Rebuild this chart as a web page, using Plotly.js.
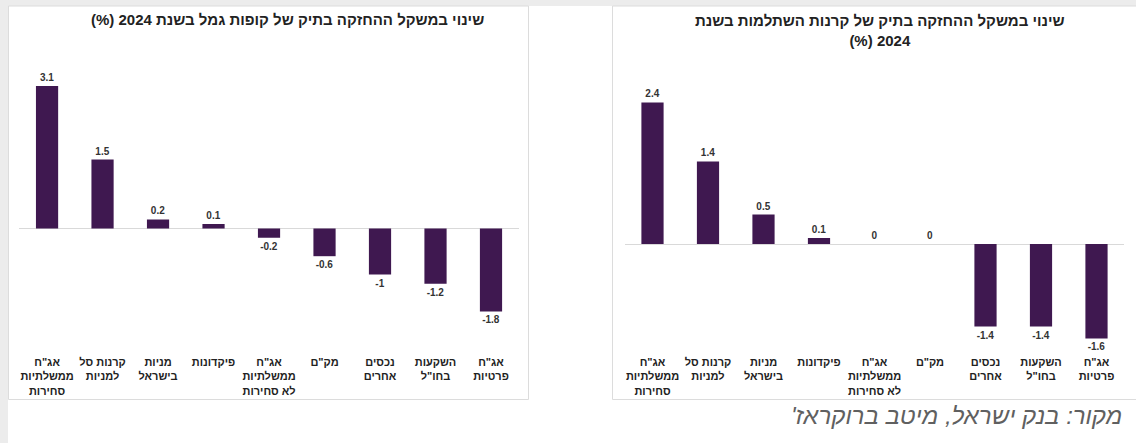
<!DOCTYPE html>
<html>
<head>
<meta charset="utf-8">
<script src="https://cdn.plot.ly/plotly-3.0.1.min.js"></script>
<style>
html,body{margin:0;padding:0;background:#fff;}
#chart{width:1136px;height:443px;}
</style>
</head>
<body>
<div id="chart"></div>
<script>
const RLM = '\u200F';
const categories = [
  'אג"ח<br>ממשלתיות<br>סחירות',
  'קרנות סל<br>למניות',
  'מניות<br>בישראל',
  'פיקדונות',
  'אג"ח<br>ממשלתיות<br>לא סחירות',
  'מק"ם',
  'נכסים<br>אחרים',
  'השקעות<br>בחו"ל',
  'אג"ח<br>פרטיות'
];
const gemelValues = [3.1, 1.5, 0.2, 0.1, -0.2, -0.6, -1, -1.2, -1.8];
const hishtalmutValues = [2.4, 1.4, 0.5, 0.1, 0, 0, -1.4, -1.4, -1.6];
const titleGemel = 'שינוי במשקל ההחזקה בתיק של קופות גמל בשנת 2024 (%)';
const titleHishtalmutLine1 = 'שינוי במשקל ההחזקה בתיק של קרנות השתלמות בשנת';
const titleHishtalmutLine2 = '2024 (%)';
const sourceText = "מקור: בנק ישראל, מיטב ברוקראז'";

const W = 1136, H = 443;
const px = x => x / W;
const py = y => 1 - y / H;

const barColor = '#3f1850';
const font = 'Liberation Sans, Arial, DejaVu Sans, sans-serif';
const tickLabels = categories.map(c => c.split('<br>').map(s => RLM + s + RLM).join('<br>'));
const xIdx = categories.map((c, i) => i);

function barTrace(vals, xa, ya) {
  return {
    type: 'bar', x: xIdx, y: vals, xaxis: xa, yaxis: ya,
    marker: {color: barColor},
    text: vals.map(v => String(v)),
    textposition: 'outside',
    cliponaxis: false,
    textfont: {family: font, size: 10, color: '#333', weight: 'bold'},
    hoverinfo: 'skip'
  };
}

const data = [
  barTrace(gemelValues, 'x', 'y'),
  barTrace(hishtalmutValues, 'x2', 'y2')
];

function xAxis(domain, anchor) {
  return {
    domain: domain, anchor: anchor, range: [-0.5, 8.5],
    tickmode: 'array', tickvals: xIdx, ticktext: tickLabels,
    showgrid: false, zeroline: false, showline: false, ticks: '',
    ticklabelstandoff: 4,
    tickfont: {family: font, size: 11, color: '#222', weight: 'bold'},
    fixedrange: true
  };
}
function yAxis(domain, anchor, range) {
  return {
    domain: domain, anchor: anchor, range: range,
    showgrid: false, showticklabels: false, ticks: '',
    zeroline: true, zerolinecolor: '#d9d9d9', zerolinewidth: 1,
    showline: false, fixedrange: true
  };
}

const layout = {
  width: W, height: H,
  margin: {l: 0, r: 0, t: 0, b: 0},
  paper_bgcolor: '#ffffff',
  plot_bgcolor: 'rgba(0,0,0,0)',
  showlegend: false,
  bargap: 0.6,
  xaxis: xAxis([px(19.3), px(518.75)], 'y'),
  yaxis: yAxis([py(350), py(75)], 'x', [-(350 - 228.6) / 46, (228.6 - 75) / 46]),
  xaxis2: xAxis([px(624.75), px(1124.25)], 'y2'),
  yaxis2: yAxis([py(350), py(75)], 'x2', [-(350 - 244) / 59, (244 - 75) / 59]),
  shapes: [
    {type: 'rect', xref: 'paper', yref: 'paper', x0: 0, x1: 1, y0: py(6), y1: 1,
     fillcolor: '#ececec', line: {width: 0}, layer: 'below'},
    {type: 'rect', xref: 'paper', yref: 'paper', x0: 0, x1: px(8), y0: 0, y1: 1,
     fillcolor: '#ececec', line: {width: 0}, layer: 'below'},
    {type: 'rect', xref: 'paper', yref: 'paper', x0: px(8.5), x1: px(528.5), y0: py(399.5), y1: py(6),
     fillcolor: '#ffffff', line: {color: '#dcdcdc', width: 1}, layer: 'below'},
    {type: 'rect', xref: 'paper', yref: 'paper', x0: px(612.5), x1: px(1140), y0: py(399.5), y1: py(6),
     fillcolor: '#ffffff', line: {color: '#dcdcdc', width: 1}, layer: 'below'}
  ],
  annotations: [
    {xref: 'paper', yref: 'paper', x: px(287), y: py(19.5), xanchor: 'center', yanchor: 'middle',
     text: RLM + titleGemel + RLM, showarrow: false,
     font: {family: font, size: 15, color: '#222', weight: 'bold'}},
    {xref: 'paper', yref: 'paper', x: px(880), y: py(30.5), xanchor: 'center', yanchor: 'middle',
     text: RLM + titleHishtalmutLine1 + RLM + '<br>' + RLM + titleHishtalmutLine2 + RLM, showarrow: false,
     font: {family: font, size: 15, color: '#222', weight: 'bold'}},
    {xref: 'paper', yref: 'paper', x: px(1124), y: py(415), xanchor: 'right', yanchor: 'middle',
     text: RLM + sourceText + RLM, showarrow: false,
     font: {family: font, size: 24, color: '#606060', style: 'italic'}}
  ]
};

Plotly.newPlot('chart', data, layout, {staticPlot: true, displayModeBar: false});
</script>
</body>
</html>
